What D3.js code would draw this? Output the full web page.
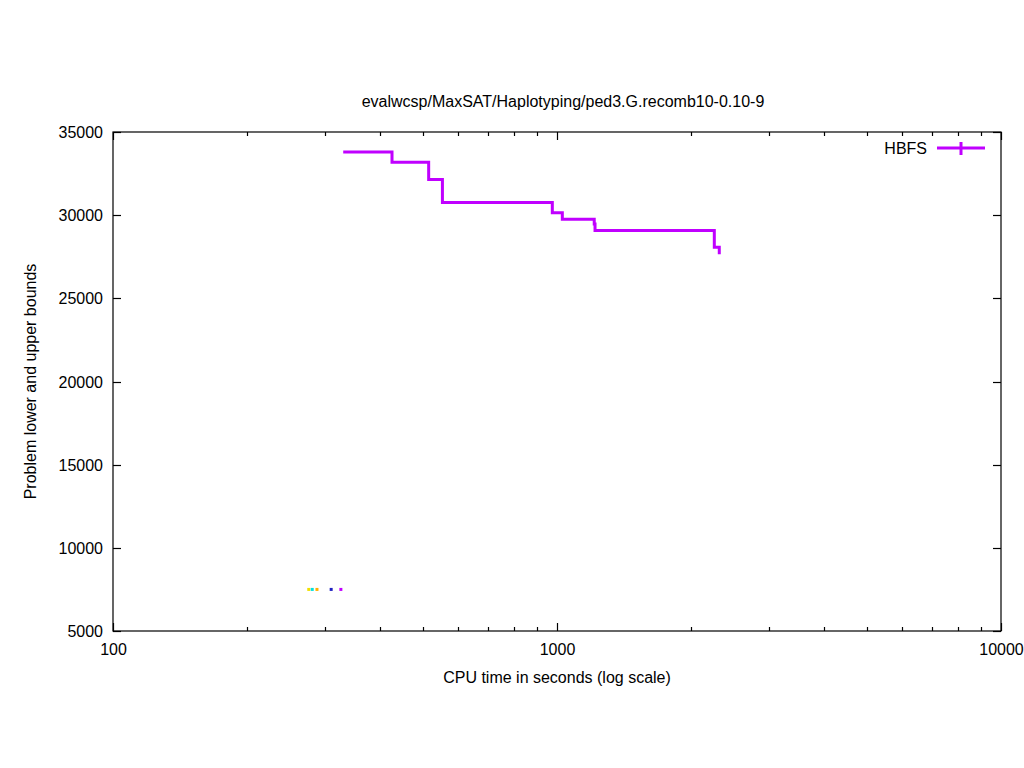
<!DOCTYPE html>
<html>
<head>
<meta charset="utf-8">
<script src="https://cdn.jsdelivr.net/npm/d3@7"></script>
<style>
  body { margin: 0; background: #fff; }
  svg { display: block; }
  text { font-family: "Liberation Sans", Arial, sans-serif; fill: #000; }
</style>
</head>
<body>
<svg id="chart" width="1024" height="768"></svg>
<script>
// ---- data ----
const title = "evalwcsp/MaxSAT/Haplotyping/ped3.G.recomb10-0.10-9";
const xLabel = "CPU time in seconds (log scale)";
const yLabel = "Problem lower and upper bounds";
const seriesName = "HBFS";
const hbfsTimes  = [330, 425, 514, 552, 976, 1028, 1213, 1218, 2261, 2320];
const hbfsBounds = [33800, 33175, 32150, 30765, 30140, 29760, 29476, 29080, 28070, 27650];
const lbTimes  = [276, 281, 288, 310, 326];
const lbBounds = [7500, 7500, 7500, 7500, 7500];
const lbColors = ["#f0e000", "#00e0e0", "#ffb000", "#2020c0", "#c000ff"];
const xTicks = [100, 1000, 10000];
const xMinorTicks = [200,300,400,500,600,700,800,900,2000,3000,4000,5000,6000,7000,8000,9000];
const yTicks = [5000, 10000, 15000, 20000, 25000, 30000, 35000];

// ---- layout ----
const L = 113, R = 1001, T = 132, B = 631;
const svg = d3.select("#chart");
const x = d3.scaleLog().domain([100, 10000]).range([L, R]);
const y = d3.scaleLinear().domain([5000, 35000]).range([B, T]);
const purple = "#c000ff";
const fs = 16;

// frame
svg.append("rect").attr("x", L).attr("y", T).attr("width", R - L).attr("height", B - T)
  .attr("fill", "none").attr("stroke", "#000").attr("stroke-width", 1.2);

const g = svg.append("g").attr("stroke", "#000").attr("stroke-width", 1.2);
// y ticks (mirrored)
yTicks.forEach(v => {
  const py = Math.round(y(v)) + 0.5;
  g.append("line").attr("x1", L).attr("x2", L + 8).attr("y1", py).attr("y2", py);
  g.append("line").attr("x1", R).attr("x2", R - 8).attr("y1", py).attr("y2", py);
  svg.append("text").attr("x", L - 10).attr("y", py).attr("dy", "0.35em")
    .attr("text-anchor", "end").attr("font-size", fs).text(v);
});
// x ticks
xTicks.forEach(v => {
  const px = Math.round(x(v)) + 0.5;
  g.append("line").attr("x1", px).attr("x2", px).attr("y1", B).attr("y2", B - 8);
  g.append("line").attr("x1", px).attr("x2", px).attr("y1", T).attr("y2", T + 8);
  svg.append("text").attr("x", px).attr("y", B + 24)
    .attr("text-anchor", "middle").attr("font-size", fs).text(v);
});
xMinorTicks.forEach(v => {
  const px = Math.round(x(v)) + 0.5;
  g.append("line").attr("x1", px).attr("x2", px).attr("y1", B).attr("y2", B - 4);
  g.append("line").attr("x1", px).attr("x2", px).attr("y1", T).attr("y2", T + 4);
});

// titles
svg.append("text").attr("x", (L + R) / 2 + 6).attr("y", 107).attr("text-anchor", "middle")
  .attr("font-size", fs).text(title);
svg.append("text").attr("x", (L + R) / 2).attr("y", 683).attr("text-anchor", "middle")
  .attr("font-size", fs).text(xLabel);
svg.append("text").attr("transform", `translate(36,${(T + B) / 2}) rotate(-90)`)
  .attr("text-anchor", "middle").attr("font-size", fs).text(yLabel);

// step line
const pts = hbfsTimes.map((t, i) => [t, hbfsBounds[i]]);
const line = d3.line().x(d => x(d[0])).y(d => y(d[1])).curve(d3.curveStepAfter);
svg.append("path").datum(pts).attr("d", line)
  .attr("fill", "none").attr("stroke", purple).attr("stroke-width", 3);

// lower-bound dots
svg.selectAll("rect.lb").data(lbTimes).enter().append("rect").attr("class", "lb")
  .attr("x", d => x(d) - 1.5).attr("y", (d, i) => y(lbBounds[i]) - 1.5)
  .attr("width", 3).attr("height", 3).attr("fill", (d, i) => lbColors[i]);

// legend
svg.append("text").attr("x", 927).attr("y", 148).attr("dy", "0.35em")
  .attr("text-anchor", "end").attr("font-size", fs).text(seriesName);
svg.append("line").attr("x1", 937).attr("x2", 985).attr("y1", 148).attr("y2", 148)
  .attr("stroke", purple).attr("stroke-width", 3);
svg.append("line").attr("x1", 961).attr("x2", 961).attr("y1", 142).attr("y2", 155)
  .attr("stroke", purple).attr("stroke-width", 3);
</script>
</body>
</html>
